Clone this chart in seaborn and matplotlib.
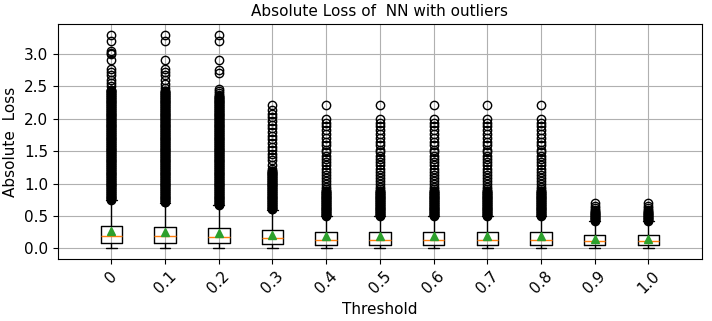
import matplotlib.pyplot as plt
import seaborn as sns
from matplotlib.ticker import MultipleLocator

# Box summary values
thresholds = ['0', '0.1', '0.2', '0.3', '0.4', '0.5', '0.6', '0.7', '0.8', '0.9', '1.0']
q1 = [0.087, 0.087, 0.087, 0.071, 0.051, 0.051, 0.051, 0.051, 0.051, 0.051, 0.051]
medians = [0.194, 0.189, 0.179, 0.163, 0.133, 0.133, 0.133, 0.133, 0.133, 0.112, 0.112]
q3 = [0.347, 0.330, 0.316, 0.290, 0.245, 0.245, 0.245, 0.245, 0.245, 0.209, 0.209]
means = [0.265, 0.245, 0.240, 0.214, 0.184, 0.184, 0.186, 0.186, 0.186, 0.143, 0.143]
whis_lo = [0.0, 0.0, 0.0, 0.0, 0.0, 0.0, 0.0, 0.0, 0.0, 0.0, 0.0]
whis_hi = [0.740, 0.700, 0.663, 0.597, 0.495, 0.495, 0.495, 0.495, 0.495, 0.425, 0.425]

# Solid band of overlapping outliers, and where it stops for each box
band = [0.41, 0.42, 0.43, 0.44, 0.45, 0.46, 0.47, 0.48, 0.49, 0.50,
        0.51, 0.52, 0.53, 0.54, 0.55, 0.56, 0.57, 0.58, 0.59, 0.60,
        0.61, 0.62, 0.63, 0.64, 0.65, 0.66, 0.67, 0.68, 0.69, 0.70,
        0.71, 0.72, 0.73, 0.74, 0.75, 0.76, 0.77, 0.78, 0.79, 0.80,
        0.81, 0.82, 0.83, 0.84, 0.85, 0.86, 0.87, 0.88, 0.89, 0.90,
        0.91, 0.92, 0.93, 0.94, 0.95, 0.96, 0.97, 0.98, 0.99, 1.00,
        1.01, 1.02, 1.03, 1.04, 1.05, 1.06, 1.07, 1.08, 1.09, 1.10,
        1.11, 1.12, 1.13, 1.14, 1.15, 1.16, 1.17, 1.18, 1.19, 1.20,
        1.21, 1.22, 1.23, 1.24, 1.25, 1.26, 1.27, 1.28, 1.29, 1.30,
        1.31, 1.32, 1.33, 1.34, 1.35, 1.36, 1.37, 1.38, 1.39, 1.40,
        1.41, 1.42, 1.43, 1.44, 1.45, 1.46, 1.47, 1.48, 1.49, 1.50,
        1.51, 1.52, 1.53, 1.54, 1.55, 1.56, 1.57, 1.58, 1.59, 1.60,
        1.61, 1.62, 1.63, 1.64, 1.65, 1.66, 1.67, 1.68, 1.69, 1.70,
        1.71, 1.72, 1.73, 1.74, 1.75, 1.76, 1.77, 1.78, 1.79, 1.80,
        1.81, 1.82, 1.83, 1.84, 1.85, 1.86, 1.87, 1.88, 1.89, 1.90,
        1.91, 1.92, 1.93, 1.94, 1.95, 1.96, 1.97, 1.98, 1.99, 2.00,
        2.01, 2.02, 2.03, 2.04, 2.05, 2.06, 2.07, 2.08, 2.09, 2.10,
        2.11, 2.12, 2.13, 2.14, 2.15, 2.16, 2.17, 2.18, 2.19, 2.20,
        2.21, 2.22, 2.23, 2.24, 2.25, 2.26, 2.27, 2.28, 2.29, 2.30,
        2.31, 2.32, 2.33, 2.34, 2.35, 2.36, 2.37, 2.38, 2.39, 2.40,
        2.41, 2.42, 2.43, 2.44, 2.45]
band_top = [2.45, 2.43, 2.36, 1.20, 0.89, 0.89, 0.89, 0.89, 0.89, 0.57, 0.57]

# Separate outliers above the band
top_0 = [3.29, 3.20, 3.05, 3.02, 3.00, 2.90, 2.76, 2.72, 2.68, 2.59, 2.55, 2.50]
top_01 = [3.29, 3.20, 2.90, 2.76, 2.72, 2.68, 2.59, 2.54, 2.48]
top_02 = [3.29, 3.20, 2.90, 2.75, 2.70, 2.46, 2.42, 2.39]
top_03 = [2.21, 2.14, 2.08, 2.03, 1.96, 1.91, 1.85, 1.80, 1.74, 1.69, 1.63,
          1.56, 1.51, 1.46, 1.41, 1.36, 1.29, 1.23]
top_mid = [2.21, 1.99, 1.94, 1.88, 1.83, 1.76, 1.70, 1.64, 1.59, 1.52, 1.48,
           1.43, 1.38, 1.33, 1.28, 1.23, 1.18, 1.13, 1.08, 1.04, 1.00, 0.95, 0.91]
top_09 = [0.70, 0.66, 0.62, 0.59]
top_outliers = [top_0, top_01, top_02, top_03, top_mid, top_mid, top_mid,
                top_mid, top_mid, top_09, top_09]

sns.set_style('ticks', {'axes.grid': True, 'grid.color': '#b0b0b0',
                        'axes.edgecolor': 'black', 'text.color': 'black',
                        'axes.labelcolor': 'black', 'xtick.color': 'black',
                        'ytick.color': 'black'})
plt.rcParams['font.family'] = ['DejaVu Sans']

fig, ax = plt.subplots(figsize=(7.12, 3.21), dpi=100)

stats = []
for i, name in enumerate(thresholds):
    fliers = [v for v in band if whis_hi[i] < v <= band_top[i]] + top_outliers[i]
    stats.append(dict(label=name, q1=q1[i], med=medians[i], q3=q3[i],
                      mean=means[i], whislo=whis_lo[i], whishi=whis_hi[i],
                      fliers=fliers))

ax.bxp(stats, showmeans=True, widths=0.4)
ax.set_xlim(0, len(thresholds) + 1)
ax.yaxis.set_major_locator(MultipleLocator(0.5))
ax.grid(True, color='#b0b0b0', linewidth=0.8)

ax.set_title('Absolute Loss of  NN with outliers', fontsize=11)
ax.set_xlabel('Threshold', fontsize=11)
ax.set_ylabel('Absolute  Loss', fontsize=11)
ax.tick_params(axis='x', rotation=45, labelsize=11)
ax.tick_params(axis='y', labelsize=11)

fig.subplots_adjust(left=0.081, right=0.986, top=0.924, bottom=0.193)
plt.savefig('out.png', dpi=100)
